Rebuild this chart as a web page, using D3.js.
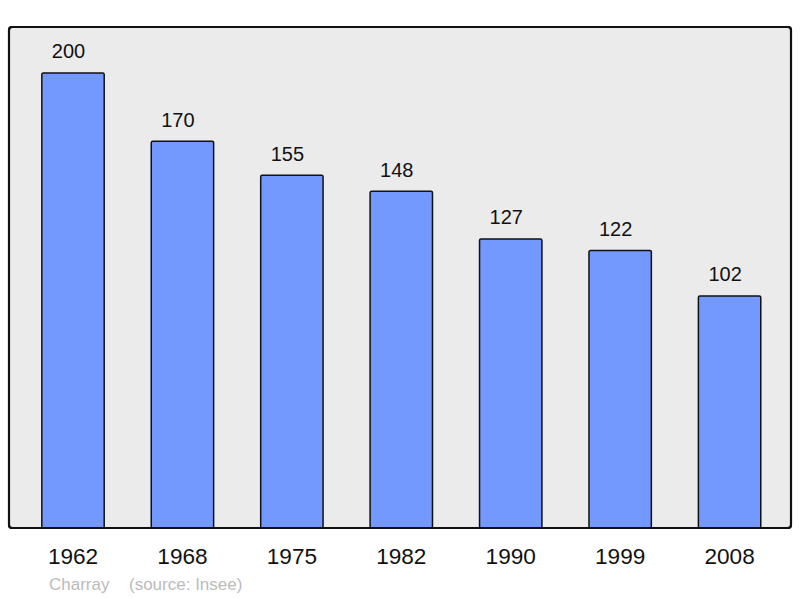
<!DOCTYPE html>
<html><head><meta charset="utf-8">
<script src="https://cdn.jsdelivr.net/npm/d3@7"></script>
<style>body{margin:0;background:#fff;}svg{display:block;font-family:"Liberation Sans",Arial,sans-serif;}</style>
</head><body>
<svg id="c" width="800" height="598"></svg>
<script>
const years = ["1962","1968","1975","1982","1990","1999","2008"];
const population = [200,170,155,148,127,122,102];
const place = "Charray";
const source = "(source: Insee)";

const FONT = "Liberation Sans, Arial, sans-serif";
const svg = d3.select("#c");
const panel = {x0: 9, y0: 27, x1: 791, y1: 528};

svg.append("rect").attr("x", panel.x0).attr("y", panel.y0)
  .attr("width", panel.x1 - panel.x0).attr("height", panel.y1 - panel.y0)
  .attr("rx", 3).attr("fill", "#ebebeb").attr("stroke", "#111").attr("stroke-width", 2);

const x = d3.scaleBand().domain(years).range([18.3, 784.3]).paddingInner(0.43).paddingOuter(0.215);
const y = d3.scaleLinear().domain([0, 220.2]).range([panel.y1, panel.y0]);

const data = years.map((yr, i) => ({yr, v: population[i]}));

svg.selectAll("rect.bar").data(data).enter().append("rect")
  .attr("class", "bar")
  .attr("x", d => x(d.yr)).attr("y", d => y(d.v))
  .attr("width", x.bandwidth()).attr("height", d => y(0) - y(d.v))
  .attr("rx", 1.5)
  .attr("fill", "#7399ff").attr("stroke", "#111").attr("stroke-width", 1.5);

svg.append("rect").attr("x", panel.x0).attr("y", panel.y0)
  .attr("width", panel.x1 - panel.x0).attr("height", panel.y1 - panel.y0)
  .attr("rx", 3).attr("fill", "none").attr("stroke", "#111").attr("stroke-width", 2.2);

svg.selectAll("text.val").data(data).enter().append("text")
  .attr("class", "val")
  .attr("x", d => x(d.yr) + x.bandwidth() / 2 - 4.5).attr("y", d => y(d.v) - 14.7)
  .attr("text-anchor", "middle").attr("font-size", 20).attr("font-family", FONT).attr("fill", "#111")
  .text(d => d.v);

const xAxis = d3.axisBottom(x).tickSize(0).tickPadding(0);
const ax = svg.append("g").attr("transform", `translate(0,${panel.y1})`).call(xAxis);
ax.select(".domain").remove();
ax.selectAll("text").attr("font-size", 22.6).attr("fill", "#111")
  .attr("font-family", FONT)
  .attr("dy", null).attr("y", 36.3);

svg.append("text").attr("x", 49).attr("y", 590).attr("font-size", 17).attr("font-family", FONT).attr("fill", "#bbb").text(place);
svg.append("text").attr("x", 129).attr("y", 590).attr("font-size", 17).attr("font-family", FONT).attr("fill", "#bbb").text(source);
</script>
</body></html>
